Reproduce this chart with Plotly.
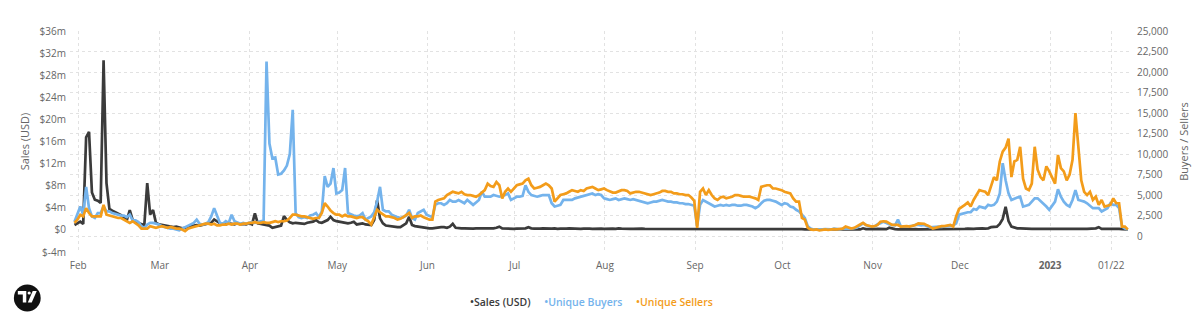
import pandas as pd
import plotly.graph_objects as go

START = "2022-01-30"

# Daily sales in millions of USD (Jan 30 2022 .. Jan 27 2023)
sales_musd = [
    0.9, 1.2,
    # Feb
    1.5, 1.1, 16.8, 17.8, 6.8, 5.5, 5.3, 4.9, 30.8, 8.5,
    3.8, 3.5, 3.2, 2.9, 2.7, 2.2, 1.8, 3.6, 1.8, 1.4,
    1.2, 1.0, 0.9, 8.5, 2.8, 3.6, 1.3, 1.0,
    # Mar
    0.9, 0.8, 0.7, 0.7, 0.5, 0.6, 0.5, 0.3, 0.4, 0.6,
    0.7, 0.8, 0.9, 0.8, 0.9, 1.0, 1.1, 1.3, 1.9, 1.5,
    1.2, 1.1, 1.0, 1.2, 1.1, 1.0, 1.2, 1.0, 1.1, 1.0,
    1.2,
    # Apr
    1.0, 3.0, 1.2, 1.1, 1.0, 0.9, 0.8, 0.4, 0.5, 0.6,
    0.8, 2.5, 1.8, 1.4, 1.2, 1.3, 1.2, 1.2, 1.1, 1.3,
    1.4, 1.5, 1.8, 1.4, 1.3, 1.5, 1.8, 2.4, 1.8, 1.6,
    # May
    1.5, 1.5, 1.3, 1.2, 1.3, 1.5, 1.0, 1.1, 1.2, 1.0,
    0.9, 0.9, 1.8, 5.4, 2.1, 1.2, 0.8, 0.7, 0.6, 0.5,
    0.5, 0.5, 0.8, 1.2, 2.4, 0.9, 0.7, 0.6, 0.5, 0.5,
    0.4,
    # Jun
    0.3, 0.3, 0.4, 0.4, 0.5, 0.5, 0.4, 0.6, 1.1, 0.4,
    0.3, 0.3, 0.3, 0.25, 0.3, 0.25, 0.3, 0.3, 0.25, 0.3,
    0.35, 0.3, 0.3, 0.4, 0.6, 0.3, 0.25, 0.3, 0.25, 0.2,
    # Jul
    0.25, 0.3, 0.25, 0.3, 0.5, 0.3, 0.25, 0.2, 0.25, 0.3,
    0.25, 0.2, 0.25, 0.3, 0.2, 0.25, 0.2, 0.25, 0.3, 0.25,
    0.2, 0.25, 0.2, 0.25, 0.3, 0.25, 0.2, 0.25, 0.2, 0.25,
    0.2,
    # Aug
    0.25, 0.2, 0.25, 0.2, 0.3, 0.25, 0.2, 0.25, 0.2, 0.2,
    0.25, 0.2, 0.25, 0.2, 0.2, 0.25, 0.2, 0.2, 0.25, 0.2,
    0.2, 0.25, 0.2, 0.2, 0.2, 0.25, 0.2, 0.2, 0.25, 0.2,
    0.15,
    # Sep
    0.15, 0.2, 0.2, 0.25, 0.2, 0.2, 0.2, 0.15, 0.2, 0.2,
    0.2, 0.15, 0.2, 0.2, 0.2, 0.15, 0.2, 0.2, 0.15, 0.2,
    0.2, 0.15, 0.2, 0.25, 0.2, 0.2, 0.15, 0.2, 0.2, 0.15,
    # Oct
    0.2, 0.15, 0.2, 0.15, 0.2, 0.15, 0.15, 0.1, 0.1, 0.05,
    0.05, 0.05, 0.1, 0.05, 0.05, 0.1, 0.05, 0.05, 0.1, 0.05,
    0.05, 0.1, 0.05, 0.05, 0.1, 0.05, 0.1, 0.3, 0.15, 0.15,
    0.1,
    # Nov
    0.15, 0.2, 0.15, 0.1, 0.15, 0.4, 0.25, 0.15, 0.1, 0.15,
    0.1, 0.1, 0.15, 0.2, 0.15, 0.1, 0.1, 0.15, 0.1, 0.1,
    0.15, 0.1, 0.1, 0.15, 0.1, 0.1, 0.15, 0.1, 0.15, 0.2,
    # Dec
    0.2, 0.2, 0.25, 0.2, 0.2, 0.25, 0.3, 0.3, 0.25, 0.3,
    0.5, 0.6, 0.6, 1.1, 2.0, 4.2, 1.6, 0.6, 0.4, 0.3,
    0.3, 0.25, 0.2, 0.25, 0.2, 0.2, 0.25, 0.2, 0.2, 0.25,
    0.2,
    # Jan 2023
    0.2, 0.15, 0.2, 0.2, 0.25, 0.2, 0.2, 0.25, 0.2, 0.2,
    0.15, 0.2, 0.2, 0.25, 0.2, 0.3, 0.5, 0.2, 0.2, 0.25,
    0.2, 0.2, 0.25, 0.2, 0.15, 0.15, 0.1,
]

# Daily unique buyers, thousands
buyers_k = [
    1.75, 2.8,
    # Feb
    3.6, 2.6, 6.0, 3.4, 2.4, 2.2, 2.8, 2.8, 3.6, 3.0,
    3.0, 2.8, 2.7, 2.6, 2.5, 2.5, 2.3, 2.6, 1.9, 1.9,
    1.7, 1.2, 1.0, 1.4, 1.6, 1.6, 1.5, 1.4,
    # Mar
    1.2, 1.1, 1.0, 0.9, 0.9, 0.8, 0.7, 0.9, 1.1, 1.2,
    1.4, 1.6, 2.0, 1.5, 1.4, 1.5, 1.7, 2.4, 3.4, 2.4,
    1.6, 1.5, 1.8, 1.6, 2.6, 1.8, 1.6, 1.5, 1.6, 1.5,
    1.6,
    # Apr
    1.7, 1.6, 1.7, 1.8, 1.9, 21.3, 11.3, 9.5, 9.6, 7.5,
    7.6, 8.0, 8.6, 10.0, 15.4, 2.8, 2.3, 2.2, 2.3, 2.2,
    2.5, 2.6, 2.8, 2.3, 3.0, 7.3, 6.0, 6.4, 8.3, 5.2,
    # May
    5.3, 5.6, 8.3, 2.8, 2.6, 2.5, 2.4, 2.5, 2.8, 2.0,
    2.2, 2.4, 2.9, 4.2, 6.0, 3.2, 3.0, 3.0, 2.6, 2.4,
    2.3, 2.2, 2.3, 2.5, 3.2, 2.2, 2.0, 2.8, 3.0, 3.2,
    2.6,
    # Jun
    2.4, 2.3, 3.8, 4.0, 4.0, 3.8, 4.0, 4.4, 4.2, 4.2,
    4.4, 4.2, 4.0, 4.4, 4.1, 3.8, 4.1, 4.4, 5.4, 4.8,
    4.8, 4.8, 5.0, 4.9, 4.8, 4.9, 5.0, 5.2, 4.4, 4.6,
    # Jul
    4.8, 4.8, 4.9, 6.2, 5.4, 5.0, 4.9, 4.8, 4.9, 5.0,
    5.0, 5.0, 4.0, 3.6, 3.7, 3.8, 4.4, 4.4, 4.4, 4.4,
    4.6, 4.7, 4.8, 4.9, 5.0, 5.1, 5.2, 5.0, 5.1, 5.0,
    4.6,
    # Aug
    4.5, 4.4, 4.5, 4.6, 4.4, 4.5, 4.6, 4.5, 4.4, 4.5,
    4.4, 4.3, 4.2, 4.1, 4.0, 4.1, 4.2, 4.2, 4.3, 4.4,
    4.3, 4.2, 4.2, 4.1, 4.1, 4.0, 4.0, 3.9, 3.9, 3.8,
    3.7,
    # Sep
    1.2, 3.8, 4.4, 4.2, 4.0, 3.8, 3.6, 3.7, 3.8, 3.7,
    3.8, 3.7, 3.8, 3.8, 3.7, 3.7, 3.8, 3.8, 3.7, 3.6,
    3.4, 3.6, 4.0, 4.3, 4.4, 4.4, 4.3, 4.2, 4.0, 3.8,
    # Oct
    4.0, 3.9, 3.6, 3.5, 3.2, 3.0, 2.6, 2.2, 1.2, 0.9,
    0.8, 0.8, 0.75, 0.8, 0.85, 0.8, 0.8, 0.9, 0.85, 0.8,
    0.9, 0.9, 0.85, 0.9, 0.95, 1.05, 1.3, 1.55, 1.35, 1.2,
    1.15,
    # Nov
    1.15, 1.45, 1.55, 1.75, 1.55, 1.45, 1.35, 1.3, 2.0, 1.15,
    1.15, 1.15, 1.2, 1.25, 1.35, 1.35, 1.3, 1.35, 1.2, 1.05,
    1.1, 1.15, 1.15, 1.1, 1.15, 1.2, 1.2, 1.3, 1.55, 2.6,
    # Dec
    2.7, 2.8, 2.9, 2.9, 3.3, 3.2, 3.6, 3.5, 3.4, 3.8,
    3.7, 3.8, 4.2, 5.2, 8.9, 6.8, 5.2, 4.4, 4.6, 4.7,
    4.8, 3.6, 3.7, 3.8, 4.2, 4.6, 4.6, 4.3, 4.0, 3.6,
    3.2,
    # Jan 2023
    3.7, 4.2, 5.7, 4.8, 4.2, 3.8, 3.6, 4.4, 5.6, 4.4,
    4.3, 4.2, 4.0, 3.7, 3.4, 3.4, 3.4, 3.0, 3.2, 3.4,
    4.0, 3.8, 3.8, 3.4, 1.15, 0.9, 0.8,
]

# Daily unique sellers, thousands
sellers_k = [
    1.6, 2.0,
    # Feb
    2.6, 2.4, 3.4, 2.8, 2.4, 2.4, 2.4, 2.4, 3.8, 2.6,
    2.5, 2.4, 2.3, 2.2, 2.2, 2.0, 1.8, 1.6, 1.8, 1.6,
    1.3, 0.9, 0.9, 0.9, 1.2, 1.1, 1.0, 1.1,
    # Mar
    1.2, 1.1, 1.0, 1.1, 1.0, 0.9, 0.9, 0.8, 0.6, 0.9,
    1.0, 1.1, 1.2, 1.3, 1.4, 1.5, 1.5, 1.4, 1.5, 1.3,
    1.3, 1.4, 1.4, 1.5, 1.4, 1.5, 1.5, 1.4, 1.5, 1.5,
    1.6,
    # Apr
    1.6, 1.7, 1.6, 1.6, 1.7, 1.6, 1.6, 1.7, 1.8, 1.7,
    1.8, 1.8, 1.9, 2.2, 2.6, 2.6, 2.5, 2.4, 2.4, 2.3,
    2.2, 2.1, 2.2, 2.2, 2.8, 4.0, 3.6, 3.1, 2.8, 2.6,
    # May
    2.6, 2.4, 2.6, 2.4, 2.4, 2.3, 2.2, 2.3, 2.3, 2.0,
    1.8, 1.4, 2.3, 3.2, 2.9, 2.6, 2.4, 2.4, 2.3, 2.2,
    2.0, 2.1, 2.3, 2.6, 2.8, 2.2, 2.4, 2.4, 2.5, 2.3,
    2.1,
    # Jun
    2.0, 2.0, 4.2, 4.4, 4.5, 4.6, 5.0, 5.2, 5.4, 5.3,
    5.2, 5.4, 5.1, 5.0, 5.0, 4.9, 4.8, 5.0, 5.3, 5.6,
    6.4, 6.1, 6.0, 6.6, 6.2, 4.6, 5.4, 5.8, 5.4, 5.8,
    # Jul
    6.2, 6.3, 6.4, 6.8, 7.0, 6.2, 5.8, 5.9, 6.0, 6.2,
    6.4, 6.2, 5.8, 4.2, 4.6, 5.0, 5.1, 5.2, 5.4, 5.6,
    5.5, 5.4, 5.6, 5.5, 5.8, 5.9, 6.0, 5.8, 5.6, 5.7,
    5.8,
    # Aug
    5.6, 5.4, 5.3, 5.3, 5.5, 5.6, 5.6, 5.5, 5.2, 5.3,
    5.4, 5.4, 5.3, 5.2, 5.1, 5.0, 5.1, 5.2, 5.3, 5.5,
    5.5, 5.4, 5.4, 5.2, 5.2, 5.1, 5.1, 5.0, 5.0, 4.7,
    4.3,
    # Sep
    1.0, 5.4, 5.8, 5.0, 5.6, 5.0, 4.6, 4.4, 4.7, 4.8,
    4.6, 4.7, 4.8, 5.0, 5.0, 4.9, 4.8, 4.8, 4.8, 4.7,
    4.6, 4.4, 6.0, 6.1, 6.2, 6.2, 5.8, 5.8, 5.7, 5.6,
    # Oct
    5.4, 5.3, 5.2, 4.6, 4.2, 4.2, 2.2, 2.0, 1.0, 0.8,
    0.75, 0.8, 0.7, 0.75, 0.8, 0.75, 0.8, 0.85, 0.8, 0.85,
    0.9, 1.15, 1.0, 0.9, 1.0, 1.15, 1.4, 1.6, 1.35, 1.25,
    1.15,
    # Nov
    1.2, 1.35, 1.75, 1.8, 1.75, 1.55, 1.35, 1.35, 1.35, 1.15,
    1.2, 1.2, 1.15, 1.25, 1.35, 1.55, 1.5, 1.5, 1.3, 1.15,
    0.9, 1.0, 1.15, 1.2, 1.2, 1.3, 1.35, 1.15, 2.4, 3.3,
    # Dec
    3.5, 3.8, 4.1, 3.6, 4.4, 5.0, 5.6, 5.5, 5.4, 5.0,
    6.0, 7.2, 6.8, 9.1, 10.3, 10.8, 11.9, 7.2, 9.1, 9.3,
    10.9, 7.0, 5.8, 5.6, 6.4, 10.9, 8.1, 7.2, 6.8, 8.5,
    7.9,
    # Jan 2023
    7.2, 6.4, 9.9, 8.3, 7.9, 6.8, 7.5, 9.3, 15.0, 10.7,
    6.8, 5.4, 5.0, 5.4, 4.4, 4.8, 3.8, 4.4, 3.6, 3.7,
    3.8, 4.6, 4.0, 4.0, 1.15, 1.15, 0.8,
]

x_tick_dates = ["2022-02-01", "2022-03-01", "2022-04-01", "2022-05-01", "2022-06-01",
                "2022-07-01", "2022-08-01", "2022-09-01", "2022-10-01", "2022-11-01",
                "2022-12-01", "2023-01-01", "2023-01-22"]
x_tick_labels = ["Feb", "Mar", "Apr", "May", "Jun", "Jul", "Aug", "Sep", "Oct", "Nov",
                 "Dec", "<b>2023</b>", "01/22"]

left_tick_vals_m = [-4, 0, 4, 8, 12, 16, 20, 24, 28, 32, 36]
left_tick_labels = ["$-4m", "$0", "$4m", "$8m", "$12m", "$16m", "$20m", "$24m",
                    "$28m", "$32m", "$36m"]

series_names = ["Sales (USD)", "Unique Buyers", "Unique Sellers"]
series_colors = ["#3b3b3b", "#74b3ec", "#f39c1a"]

# ---------------------------------------------------------------
W, H = 1200, 326
ML, MR, MT, MB = 70, 63, 31, 74
PW, PH = W - ML - MR, H - MT - MB


def px(xp):
    return (xp - ML) / PW


def py(yp):
    return (H - MB - yp) / PH


def dates(n):
    return pd.date_range(START, periods=n, freq="D") + pd.Timedelta(hours=17)


fig = go.Figure()
fig.add_trace(go.Scatter(
    x=dates(len(sales_musd)), y=[v * 1e6 for v in sales_musd],
    name=series_names[0], mode="lines", yaxis="y",
    line=dict(color=series_colors[0], width=2.7), hoverinfo="skip"))
fig.add_trace(go.Scatter(
    x=dates(len(buyers_k)), y=[v * 1000 for v in buyers_k],
    name=series_names[1], mode="lines", yaxis="y2",
    line=dict(color=series_colors[1], width=2.7), hoverinfo="skip"))
fig.add_trace(go.Scatter(
    x=dates(len(sellers_k)), y=[v * 1000 for v in sellers_k],
    name=series_names[2], mode="lines", yaxis="y2",
    line=dict(color=series_colors[2], width=2.7), hoverinfo="skip"))

grid_color = "#e2e2e2"
tick_font = dict(family="Open Sans", size=10, color="#666666")
title_font = dict(family="Open Sans", size=11, color="#666666")

fig.update_layout(
    width=W, height=H,
    margin=dict(l=ML, r=MR, t=MT, b=MB, pad=0),
    paper_bgcolor="white", plot_bgcolor="white",
    showlegend=False,
    font=dict(family="Open Sans", color="#666666"),
    xaxis=dict(
        type="date",
        range=["2022-01-29 04:00", "2023-01-28 11:00"],
        tickvals=x_tick_dates, ticktext=x_tick_labels,
        showgrid=True, gridcolor=grid_color, griddash="dot", gridwidth=1,
        zeroline=False, showline=False, ticks="",
        tickfont=tick_font, ticklabelstandoff=6,
    ),
    yaxis=dict(
        range=[-4.0e6, 36.1e6],
        tickvals=[v * 1e6 for v in left_tick_vals_m], ticktext=left_tick_labels,
        showgrid=False, zeroline=False, showline=False, ticks="",
        tickfont=tick_font, ticklabelstandoff=3,
        title=dict(text="Sales (USD)", font=title_font, standoff=7),
    ),
    yaxis2=dict(
        overlaying="y", side="right",
        range=[-1954, 25037],
        tick0=0, dtick=2500, tickformat=",d",
        showgrid=True, gridcolor=grid_color, griddash="dot", gridwidth=1,
        zeroline=False, showline=False, ticks="",
        tickfont=tick_font, ticklabelstandoff=6,
        title=dict(text="Buyers / Sellers", font=title_font, standoff=12),
    ),
)

legend_html = (
    f"<span style='color:{series_colors[0]}'>•{series_names[0]}</span>"
    f"     <span style='color:{series_colors[1]}'>•{series_names[1]}</span>"
    f"     <span style='color:{series_colors[2]}'>•{series_names[2]}</span>"
)
fig.add_annotation(
    text=legend_html, xref="paper", yref="paper",
    x=px(595), y=py(302), xanchor="center", yanchor="middle",
    showarrow=False,
    font=dict(family="Open Sans", size=10.5, color="#444444", weight=600),
)

# logo (bottom-left badge)
cx, cy, r = 27, 298, 13.5
fig.add_shape(type="circle", xref="paper", yref="paper",
              x0=px(cx - r), x1=px(cx + r), y0=py(cy + r), y1=py(cy - r),
              fillcolor="#111111", line=dict(width=0), layer="above")
fig.add_shape(type="path", xref="paper", yref="paper",
              path=(f"M {px(17.5)},{py(291)} L {px(26)},{py(291)} L {px(26)},{py(302.5)} "
                    f"L {px(22.5)},{py(302.5)} L {px(22.5)},{py(294.5)} L {px(17.5)},{py(294.5)} Z"),
              fillcolor="white", line=dict(width=0), layer="above")
fig.add_shape(type="circle", xref="paper", yref="paper",
              x0=px(27.3), x1=px(30.5), y0=py(294.6), y1=py(291.4),
              fillcolor="white", line=dict(width=0), layer="above")
fig.add_shape(type="path", xref="paper", yref="paper",
              path=(f"M {px(32.5)},{py(291)} L {px(36.5)},{py(291)} L {px(31.5)},{py(302.5)} "
                    f"L {px(27.5)},{py(302.5)} Z"),
              fillcolor="white", line=dict(width=0), layer="above")

fig.write_html("out.html")
